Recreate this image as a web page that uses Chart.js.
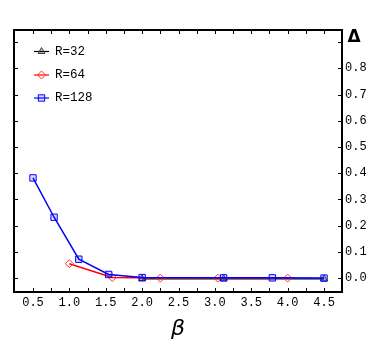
<!DOCTYPE html>
<html>
<head>
    <script src="https://cdn.jsdelivr.net/npm/chart.js"></script>
    <style>
        body { margin: 0; background: #fff; }
        canvas { display: block; }
    </style>
</head>
<body>
    <canvas id="deltaChart" width="382" height="347"></canvas>

<script>
// 데이터
const seriesLabels = ['R=32', 'R=64', 'R=128'];
const betaR32 = [2.0, 3.12, 4.5];
const deltaR32 = [-0.003, -0.003, -0.003];
const betaR64 = [1.0, 1.59, 2.25, 3.04, 4.0];
const deltaR64 = [0.055, 0.002, 0.0, 0.0, 0.0];
const betaR128 = [0.5, 0.79, 1.13, 1.54, 2.0, 3.12, 3.79, 4.5];
const deltaR128 = [0.382, 0.232, 0.072, 0.014, 0.002, 0.001, 0.001, 0.0];
const xTickValues = [0.5, 1.0, 1.5, 2.0, 2.5, 3.0, 3.5, 4.0, 4.5];
const yTickValues = [0.0, 0.1, 0.2, 0.3, 0.4, 0.5, 0.6, 0.7, 0.8];

const toPoints = (xs, ys) => xs.map((x, i) => ({x: x, y: ys[i]}));
const monoFont = {family: '"Liberation Mono", "DejaVu Sans Mono", monospace', size: 12};

// 프레임, 안쪽 눈금, 범례, Δ 라벨
const framePlugin = {
    id: 'frame',
    afterDatasetsDraw(chart) {
        const {ctx, chartArea: a, scales: {x, y}} = chart;
        ctx.save();
        ctx.strokeStyle = '#000';
        ctx.lineWidth = 1;
        ctx.beginPath();
        for (let v = 0.25; v < x.max; v += 0.25) {
            const px = Math.round(x.getPixelForValue(v)) + 0.5;
            if (px <= a.left + 2 || px >= a.right - 2) continue;
            ctx.moveTo(px, a.bottom); ctx.lineTo(px, a.bottom - 4);
            ctx.moveTo(px, a.top); ctx.lineTo(px, a.top + 4);
        }
        for (let v = 0; v <= 0.9001; v += 0.1) {
            const py = Math.round(y.getPixelForValue(v)) + 0.5;
            ctx.moveTo(a.left, py); ctx.lineTo(a.left + 4, py);
            ctx.moveTo(a.right, py); ctx.lineTo(a.right - 4, py);
        }
        ctx.stroke();
        ctx.lineWidth = 2;
        ctx.strokeRect(a.left, a.top, a.right - a.left, a.bottom - a.top);

        // 범례
        const rows = [51.5, 75, 98];
        chart.data.datasets.forEach((ds, i) => {
            const ly = rows[i];
            ctx.strokeStyle = ds.borderColor;
            ctx.lineWidth = 1.2;
            ctx.beginPath();
            ctx.moveTo(34, ly); ctx.lineTo(49, ly);
            ctx.stroke();
            ctx.fillStyle = ds.pointBackgroundColor;
            ctx.strokeStyle = ds.pointBorderColor;
            ctx.lineWidth = 1;
            Chart.helpers.drawPoint(ctx, {pointStyle: ds.pointStyle, radius: ds.pointRadius, rotation: 0, borderWidth: 1}, 41.5, ly);
            ctx.fillStyle = '#000';
            ctx.font = '12.5px "Liberation Mono", monospace';
            ctx.textBaseline = 'middle';
            ctx.textAlign = 'left';
            ctx.fillText(ds.label, 55, ly);
        });

        ctx.font = 'bold 17px "DejaVu Sans", sans-serif';
        ctx.textAlign = 'center';
        ctx.textBaseline = 'middle';
        ctx.fillText('Δ', 354, 38);
        ctx.restore();
    }
};

new Chart(document.getElementById('deltaChart'), {
    type: 'scatter',
    data: {
        datasets: [{
            label: seriesLabels[0],
            data: toPoints(betaR32, deltaR32),
            showLine: true,
            borderColor: '#000',
            borderWidth: 1.2,
            pointStyle: 'triangle',
            pointRadius: 4,
            pointBorderColor: '#444',
            pointBackgroundColor: 'rgba(0,0,0,0.25)',
            pointBorderWidth: 1,
            order: 3
        }, {
            label: seriesLabels[1],
            data: toPoints(betaR64, deltaR64),
            showLine: true,
            borderColor: '#ff0000',
            borderWidth: 1.5,
            pointStyle: 'rectRot',
            pointRadius: 4,
            pointBorderColor: '#ff3030',
            pointBackgroundColor: 'rgba(255,255,255,0)',
            pointBorderWidth: 1,
            order: 2
        }, {
            label: seriesLabels[2],
            data: toPoints(betaR128, deltaR128),
            showLine: true,
            borderColor: '#0000ff',
            borderWidth: 1.5,
            pointStyle: 'rect',
            pointRadius: 4.5,
            pointBorderColor: '#0000ff',
            pointBackgroundColor: 'rgba(0,0,255,0.15)',
            pointBorderWidth: 1,
            order: 1
        }]
    },
    options: {
        responsive: false,
        animation: false,
        layout: {padding: {left: 14, top: 30, right: 0, bottom: 0}},
        plugins: {
            legend: {display: false},
            tooltip: {enabled: false}
        },
        scales: {
            x: {
                type: 'linear',
                min: 0.239,
                max: 4.747,
                afterBuildTicks: s => { s.ticks = xTickValues.map(v => ({value: v})); },
                afterFit: s => { s.height = 55; },
                grid: {display: false, drawTicks: false},
                border: {display: false},
                ticks: {
                    padding: 4,
                    color: '#000',
                    font: monoFont,
                    maxRotation: 0,
                    callback: v => Number(v).toFixed(1)
                },
                title: {
                    display: true,
                    text: 'β',
                    color: '#000',
                    font: {family: '"DejaVu Sans", sans-serif', size: 22, style: 'italic'},
                    padding: {top: 0, bottom: 5}
                }
            },
            y: {
                type: 'linear',
                position: 'right',
                min: -0.053,
                max: 0.946,
                afterBuildTicks: s => { s.ticks = yTickValues.map(v => ({value: v})); },
                afterFit: s => { s.width = 40; },
                grid: {display: false, drawTicks: false},
                border: {display: false},
                ticks: {
                    padding: 3,
                    color: '#000',
                    font: monoFont,
                    callback: v => Number(v).toFixed(1)
                }
            }
        }
    },
    plugins: [framePlugin]
});
</script>
</body>
</html>
